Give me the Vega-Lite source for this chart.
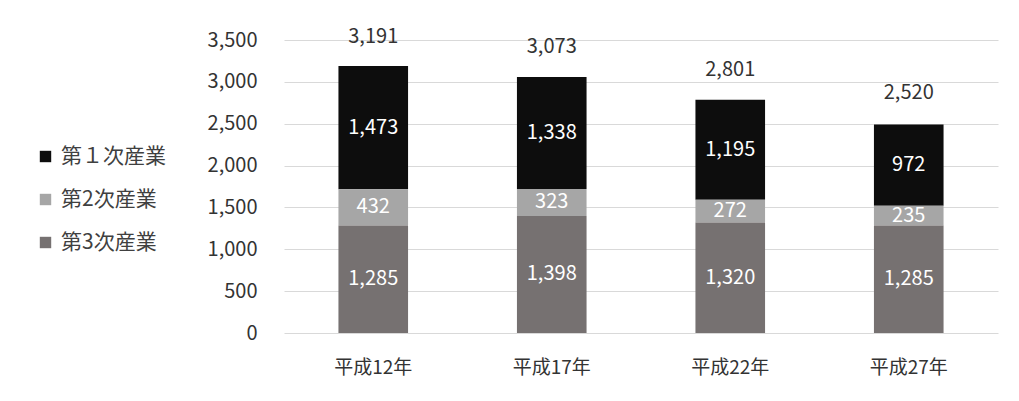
{
  "$schema": "https://vega.github.io/schema/vega-lite/v6.json",
  "autosize": {"type": "none"},
  "width": 714,
  "height": 293,
  "padding": {"left": 284, "top": 40, "right": 21, "bottom": 68},
  "background": "white",
  "config": {
    "view": {"stroke": null},
    "font": "Noto Sans CJK JP",
    "axis": {"labelFont": "Noto Sans CJK JP", "labelColor": "#404040"}
  },
  "datasets": {
    "seg": [
      {"year": "平成12年", "sector": "第１次産業", "rank": 3, "value": 1473},
      {"year": "平成12年", "sector": "第2次産業", "rank": 2, "value": 432},
      {"year": "平成12年", "sector": "第3次産業", "rank": 1, "value": 1285},
      {"year": "平成17年", "sector": "第１次産業", "rank": 3, "value": 1338},
      {"year": "平成17年", "sector": "第2次産業", "rank": 2, "value": 323},
      {"year": "平成17年", "sector": "第3次産業", "rank": 1, "value": 1398},
      {"year": "平成22年", "sector": "第１次産業", "rank": 3, "value": 1195},
      {"year": "平成22年", "sector": "第2次産業", "rank": 2, "value": 272},
      {"year": "平成22年", "sector": "第3次産業", "rank": 1, "value": 1320},
      {"year": "平成27年", "sector": "第１次産業", "rank": 3, "value": 972},
      {"year": "平成27年", "sector": "第2次産業", "rank": 2, "value": 235},
      {"year": "平成27年", "sector": "第3次産業", "rank": 1, "value": 1285}
    ],
    "tot": [
      {"year": "平成12年", "total": 3191},
      {"year": "平成17年", "total": 3073},
      {"year": "平成22年", "total": 2801},
      {"year": "平成27年", "total": 2520}
    ]
  },
  "encoding": {
    "x": {
      "field": "year", "type": "nominal",
      "scale": {"paddingInner": 0.61, "paddingOuter": 0.305},
      "axis": {"title": null, "labelAngle": 0, "labelFontSize": 19, "labelPadding": 25, "ticks": false, "domain": false, "labelColor": "#333333"}
    }
  },
  "layer": [
    {
      "data": {"name": "seg"},
      "transform": [
        {"stack": "value", "groupby": ["year"], "sort": [{"field": "rank", "order": "ascending"}], "as": ["v0", "v1"]},
        {"calculate": "(datum.v0 + datum.v1) / 2", "as": "mid"}
      ],
      "layer": [
        {
          "mark": {"type": "bar"},
          "encoding": {
            "y": {
              "field": "v0", "type": "quantitative",
              "scale": {"domain": [0, 3500], "nice": false},
              "axis": {"title": null, "values": [0, 500, 1000, 1500, 2000, 2500, 3000, 3500], "format": ",d", "labelFontSize": 20, "labelPadding": 27, "ticks": false, "domain": false, "gridColor": "#d9d9d9", "labelColor": "#333333"}
            },
            "y2": {"field": "v1"},
            "color": {
              "field": "sector", "type": "nominal",
              "scale": {"domain": ["第１次産業", "第2次産業", "第3次産業"], "range": ["#0d0d0d", "#a6a6a6", "#767171"]},
              "legend": {
                "title": null, "orient": "none", "legendX": -249, "legendY": 106,
                "symbolType": "square", "symbolSize": 130, "symbolStrokeWidth": 0,
                "labelFontSize": 21, "labelColor": "#404040", "rowPadding": 21, "labelOffset": 5
              }
            }
          }
        },
        {
          "mark": {"type": "text", "color": "white", "fontSize": 20, "baseline": "middle", "font": "Noto Sans CJK JP"},
          "encoding": {
            "y": {"field": "mid", "type": "quantitative"},
            "text": {"field": "value", "type": "quantitative", "format": ",d"}
          }
        }
      ]
    },
    {
      "data": {"name": "tot"},
      "mark": {"type": "text", "fontSize": 20, "color": "#333333", "baseline": "middle", "dy": -29, "font": "Noto Sans CJK JP"},
      "encoding": {
        "y": {"field": "total", "type": "quantitative"},
        "text": {"field": "total", "type": "quantitative", "format": ",d"}
      }
    }
  ]
}
